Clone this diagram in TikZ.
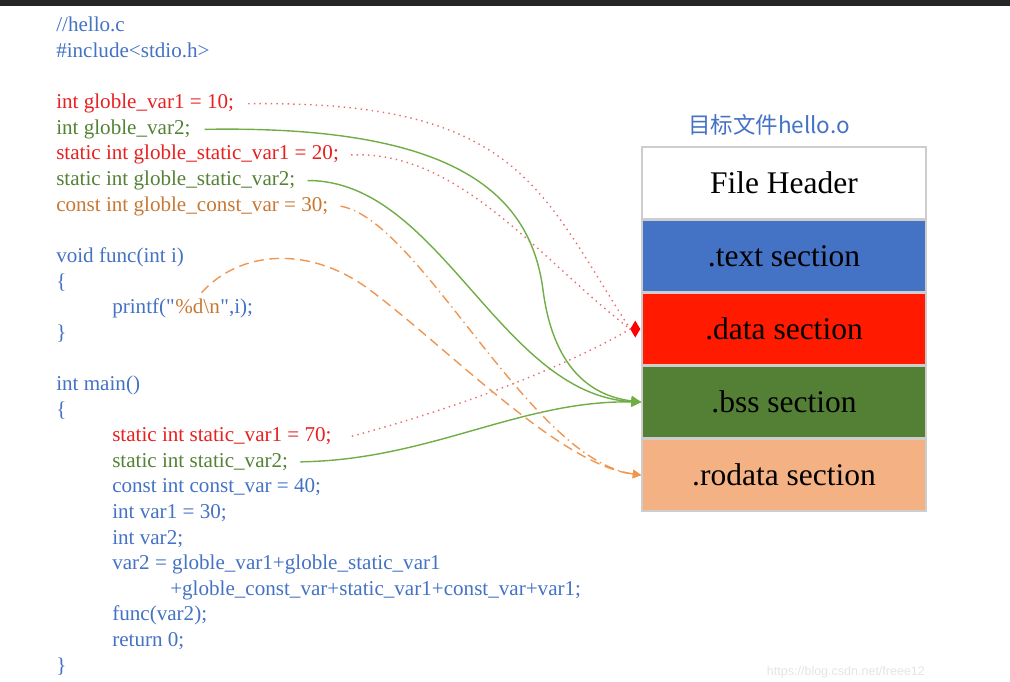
\documentclass[tikz,border=0pt]{standalone}
\usepackage{fontspec}
\setmainfont{Liberation Serif}[Ligatures=TeXOff]
\setsansfont{Liberation Sans}
\newfontfamily\cjkfont{Noto Sans CJK SC}
\usepackage{tikz}
\usetikzlibrary{positioning, calc, arrows.meta}
\definecolor{codeblue}{RGB}{68, 114, 196}
\definecolor{codered}{RGB}{232, 32, 32}
\definecolor{codegreen}{RGB}{84, 130, 53}
\definecolor{codeorange}{RGB}{200, 120, 50}
\definecolor{secblue}{RGB}{68, 114, 196}
\definecolor{secred}{RGB}{255, 26, 0}
\definecolor{secgreen}{RGB}{84, 128, 53}
\definecolor{secpeach}{RGB}{244, 177, 131}
\definecolor{boxgray}{RGB}{205, 205, 205}
\definecolor{linered}{RGB}{236, 105, 105}
\definecolor{linegreen}{RGB}{112, 173, 71}
\definecolor{lineorange}{RGB}{240, 150, 80}
\definecolor{topbar}{RGB}{38, 38, 38}
\definecolor{wmgray}{RGB}{228, 228, 228}

\begin{document}
\begin{tikzpicture}[x=0.025cm, y=-0.025cm,
    code/.style={anchor=base west, inner sep=0, font=\fontsize{15}{18}\selectfont},
    sect/.style={draw=boxgray, line width=1pt, minimum width=7.1cm, minimum height=1.79cm,
                 inner sep=0, font=\fontsize{22.4}{26}\selectfont},
    datalink/.style={linered, line width=1pt, dash pattern=on 1pt off 3pt},
    bsslink/.style={linegreen, line width=1pt, -{Triangle[length=7pt, width=7pt]}},
    rolink/.style={lineorange, line width=1pt, -{Triangle[length=6pt, width=6pt]}}]

  \useasboundingbox (0, 0) rectangle (1010, 682);
  \fill[topbar] (0, 0) rectangle (1010, 6);

  % source of hello.c
  \node[code, text=codeblue] (hello) at (56, 32) {//hello.c};
  \node[code, text=codeblue] (incl) at (56, 57.6) {\#include<stdio.h>};

  \node[code, text=codered] (gv1) at (56, 108.8) {int globle\_var1 = 10;};
  \node[code, text=codegreen] (gv2) at (56, 134.4) {int globle\_var2;};
  \node[code, text=codered] (gsv1) at (56, 160) {static int globle\_static\_var1 = 20;};
  \node[code, text=codegreen] (gsv2) at (56, 185.6) {static int globle\_static\_var2;};
  \node[code, text=codeorange] (gcv) at (56, 211.2) {const int globle\_const\_var = 30;};

  \node[code, text=codeblue] (func) at (56, 262.4) {void func(int i)};
  \node[code, text=codeblue] (lbr1) at (56, 288) {\{};
  \node[code, text=codeblue] (pf1) at (112, 313.6) {printf("};
  \node[code, text=codeorange] (fmt) at (pf1.base east) {\%d\textbackslash n};
  \node[code, text=codeblue] (pf2) at (fmt.base east) {",i);};
  \node[code, text=codeblue] (rbr1) at (56, 339.2) {\}};

  \node[code, text=codeblue] (mainf) at (56, 390.4) {int main()};
  \node[code, text=codeblue] (lbr2) at (56, 416) {\{};
  \node[code, text=codered] (sv1) at (112, 441.6) {static int static\_var1 = 70;};
  \node[code, text=codegreen] (sv2) at (112, 467.2) {static int static\_var2;};
  \node[code, text=codeblue] (cv) at (112, 492.8) {const int const\_var = 40;};
  \node[code, text=codeblue] (v1) at (112, 518.4) {int var1 = 30;};
  \node[code, text=codeblue] (v2) at (112, 544) {int var2;};
  \node[code, text=codeblue] (sum1) at (112, 569.6) {var2 = globle\_var1+globle\_static\_var1};
  \node[code, text=codeblue] (sum2) at (170, 595.2) {+globle\_const\_var+static\_var1+const\_var+var1;};
  \node[code, text=codeblue] (call) at (112, 620.8) {func(var2);};
  \node[code, text=codeblue] (ret) at (112, 646.4) {return 0;};
  \node[code, text=codeblue] (rbr2) at (56, 672) {\}};

  % object file hello.o
  \node[text=codeblue, font=\cjkfont\fontsize{16}{19}\selectfont] (title) at (769, 125) {目标文件hello.o};
  \node[sect, fill=white] (hdr) at (784, 183) {File Header};
  \node[sect, fill=secblue, below=0pt of hdr] (txt) {.text section};
  \node[sect, fill=secred, below=0pt of txt] (dat) {.data section};
  \node[sect, fill=secgreen, below=0pt of dat] (bss) {.bss section};
  \node[sect, fill=secpeach, below=0pt of bss] (rod) {.rodata section};

  % .data
  \coordinate (dtip) at ($(dat.west) + (-11, 0)$);
  \draw[datalink] ($(gv1.east) + (14, 0)$) .. controls (520, 100) and (540, 190) .. (dtip);
  \draw[datalink] ($(gsv1.east) + (12, 0)$) .. controls (460, 150) and (540, 260) .. (dtip);
  \draw[datalink] ($(sv1.east) + (20, 0)$) .. controls (450, 410) and (560, 370) .. (dtip);
  \fill[red] (dtip) -- ($(dat.west) + (-6, -8.5)$) -- ($(dat.west) + (-1, 0)$)
             -- ($(dat.west) + (-6, 8.5)$) -- cycle;

  % .bss
  \draw[bsslink] ($(gv2.east) + (14, 0)$) .. controls (450, 125) and (530, 190) .. (543, 290)
                 .. controls (553, 367) and (590, 396) .. (bss.west);
  \draw[bsslink] ($(gsv2.east) + (12, 0)$) .. controls (440, 180) and (500, 395) .. (bss.west);
  \draw[bsslink] ($(sv2.east) + (12, 0)$) .. controls (430, 460) and (520, 400) .. (bss.west);

  % .rodata
  \draw[rolink, dash pattern=on 7pt off 3pt on 1pt off 3pt]
        ($(gcv.east) + (12, 0)$) .. controls (420, 220) and (530, 460) .. (rod.west);
  \draw[rolink, dash pattern=on 7pt off 4pt]
        ($(fmt.north) + (4, -6)$) .. controls (240, 250) and (310, 245) .. (370, 290)
        .. controls (450, 350) and (560, 465) .. (rod.west);

  \node[text=wmgray, font=\sffamily\fontsize{8.9}{10}\selectfont, anchor=west] (wm) at (762, 672)
       {https://blog.csdn.net/freee12};

\end{tikzpicture}
\end{document}
